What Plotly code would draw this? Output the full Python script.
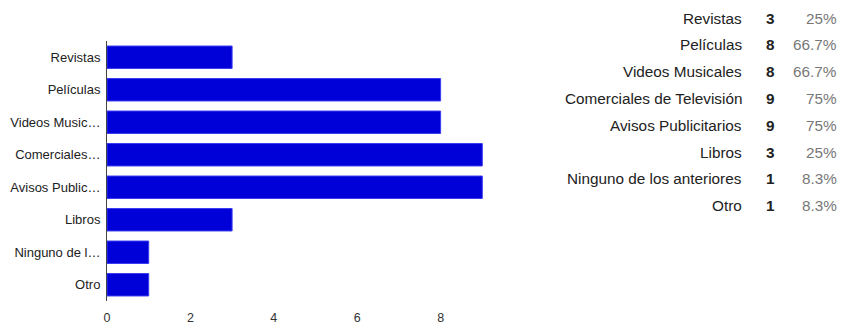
import plotly.graph_objects as go

axis_labels = ["Revistas", "Películas", "Videos Music…", "Comerciales…",
               "Avisos Public…", "Libros", "Ninguno de l…", "Otro"]
full_labels = ["Revistas", "Películas", "Videos Musicales", "Comerciales de Televisión",
               "Avisos Publicitarios", "Libros", "Ninguno de los anteriores", "Otro"]
counts = [3, 8, 8, 9, 9, 3, 1, 1]
percents = ["25%", "66.7%", "66.7%", "75%", "75%", "25%", "8.3%", "8.3%"]
x_ticks = [0, 2, 4, 6, 8]

W, H = 846, 326
L, R, T, B = 107, 524, 41, 301

fig = go.Figure()
fig.add_trace(go.Bar(
    x=counts, y=axis_labels, orientation="h",
    marker=dict(color="#0000d8", line=dict(color="#3b3bf0", width=1)),
    width=0.69,
))

def px_x(px):
    return (px - L) / (R - L)

def px_y(py):
    return (B - py) / (B - T)

ann = []
font = "Liberation Sans, Arial, sans-serif"
for i, (lab, c, p) in enumerate(zip(full_labels, counts, percents)):
    py = 18 + i * 26.8
    ann.append(dict(x=px_x(744), y=px_y(py), xref="paper", yref="paper", text=lab,
                    showarrow=False, xanchor="right", yanchor="middle",
                    font=dict(family=font, size=15.3, color="#222")))
    ann.append(dict(x=px_x(770), y=px_y(py), xref="paper", yref="paper", text="<b>%d</b>" % c,
                    showarrow=False, xanchor="center", yanchor="middle",
                    font=dict(family=font, size=15.3, color="#222")))
    ann.append(dict(x=px_x(839), y=px_y(py), xref="paper", yref="paper", text=p,
                    showarrow=False, xanchor="right", yanchor="middle",
                    font=dict(family=font, size=15.3, color="#777")))

fig.update_layout(
    width=W, height=H,
    margin=dict(l=L, r=W - R, t=T, b=H - B, pad=0),
    paper_bgcolor="white", plot_bgcolor="white",
    showlegend=False,
    annotations=ann,
    xaxis=dict(range=[0, 10], tickvals=x_ticks, showgrid=False, zeroline=False,
               showline=False, ticks="outside", ticklen=5, tickcolor="rgba(0,0,0,0)",
               automargin=False,
               tickfont=dict(family=font, size=12.5, color="#333")),
    yaxis=dict(autorange="reversed", showgrid=False, zeroline=False,
               showline=True, linecolor="#444", linewidth=1,
               ticks="", ticklabelstandoff=3, automargin=False,
               tickfont=dict(family=font, size=13, color="#222")),
    bargap=0.31,
)
fig.write_html("out.html")
